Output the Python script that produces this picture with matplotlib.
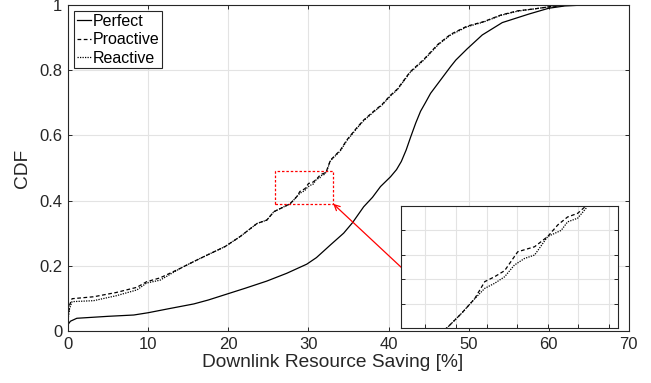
import matplotlib
matplotlib.use("Agg")
import matplotlib.pyplot as plt

plt.rcParams['font.family'] = ['Liberation Sans', 'DejaVu Sans']

perfect_x = [0, 0.3, 1.1, 5, 8.2, 10, 12.5, 15.7, 17.5, 19.8, 22.1, 24.8, 27.3,
             29.8, 31.0, 31.9, 32.75, 34.4, 35.5, 36.9, 38.0, 39.0, 40.25, 41.0,
             41.6, 42.2, 42.75, 43.4, 44.0, 44.6, 45.25, 46.5, 47.75, 48.4, 49.8,
             51.7, 54.2, 57.5, 60.0, 62.0, 64.5]
perfect_y = [0.02, 0.03, 0.039, 0.045, 0.049, 0.056, 0.068, 0.083, 0.095, 0.113,
             0.131, 0.153, 0.177, 0.205, 0.225, 0.245, 0.264, 0.30, 0.332, 0.381,
             0.41, 0.443, 0.473, 0.495, 0.52, 0.555, 0.594, 0.638, 0.674, 0.70,
             0.729, 0.77, 0.811, 0.831, 0.865, 0.908, 0.946, 0.972, 0.99, 0.997,
             1.0]

proactive_x = [0, 0.2, 0.5, 3.2, 6, 8.6, 9.8, 11.5, 14, 16.1, 19.6, 21.5, 23.6,
               24.8, 25.7, 27.7, 28.18, 28.61, 28.94, 29.26, 29.59, 30.02, 30.57,
               31.0, 31.33, 31.65, 31.98, 32.25, 32.75, 34, 34.8, 36.1, 36.9, 38.2,
               39.2, 40.2, 41.1, 42.7, 44.4, 45.7, 46.2, 47.75, 49.8, 51.9, 54,
               56.1, 58.2, 60.25, 62.5]
proactive_y = [0.04, 0.08, 0.099, 0.105, 0.118, 0.134, 0.151, 0.163, 0.192, 0.218,
               0.259, 0.29, 0.33, 0.34, 0.366, 0.39, 0.402, 0.414, 0.428, 0.432,
               0.437, 0.4525, 0.4566, 0.465, 0.4745, 0.481, 0.484, 0.49, 0.524,
               0.555, 0.586, 0.625, 0.647, 0.675, 0.695, 0.722, 0.742, 0.795,
               0.833, 0.867, 0.88, 0.91, 0.935, 0.949, 0.969, 0.982, 0.988, 0.995,
               1.0]

reactive_x = [0, 0.2, 0.5, 3.2, 6, 8.6, 9.8, 11.5, 14, 16.1, 19.6, 21.5, 23.6,
              24.8, 25.7, 27.7, 28.18, 28.61, 28.94, 29.26, 29.59, 29.91, 30.24,
              30.57, 31.0, 31.44, 31.65, 31.98, 32.25, 32.75, 34, 34.8, 36.1, 36.9,
              38.2, 39.2, 40.2, 41.1, 42.7, 44.4, 45.7, 46.2, 47.75, 49.8, 51.9,
              54, 56.1, 58.2, 60.25, 62.5]
reactive_y = [0.035, 0.07, 0.09, 0.093, 0.108, 0.126, 0.147, 0.156, 0.192, 0.218,
              0.259, 0.29, 0.33, 0.34, 0.366, 0.39, 0.402, 0.414, 0.4225, 0.4266,
              0.432, 0.4416, 0.447, 0.4498, 0.465, 0.470, 0.477, 0.48, 0.488,
              0.522, 0.553, 0.584, 0.623, 0.645, 0.673, 0.693, 0.72, 0.74, 0.793,
              0.831, 0.865, 0.878, 0.908, 0.933, 0.948, 0.968, 0.981, 0.988, 0.995,
              1.0]

x_ticks = [0, 10, 20, 30, 40, 50, 60, 70]
y_ticks = [0, 0.2, 0.4, 0.6, 0.8, 1]
y_ticklabels = ['0', '0.2', '0.4', '0.6', '0.8', '1']

zoom_box = (25.8, 33.1, 0.39, 0.49)      # red rectangle in main axes
inset_xlim = (26.2, 33.3)
inset_ylim = (0.39, 0.49)
inset_xticks = [27, 28, 29, 30, 31, 32, 33]
inset_yticks = [0.41, 0.43, 0.45, 0.47]
arrow_start = (41.6, 0.195)

text_col = '#262626'
grid_kw = dict(color='#e3e3e3', linewidth=0.8)


def draw_curves(ax):
    ax.plot(perfect_x, perfect_y, color='black', linewidth=0.9, linestyle='-', label='Perfect')
    ax.plot(proactive_x, proactive_y, color='black', linewidth=0.9, linestyle=(0, (3, 2)), label='Proactive')
    ax.plot(reactive_x, reactive_y, color='black', linewidth=0.9, linestyle=(0, (1, 1)), label='Reactive')


def style_axes(ax):
    for s in ax.spines.values():
        s.set_color(text_col)
        s.set_linewidth(0.8)
    ax.tick_params(direction='in', top=True, right=True, length=3, width=0.7,
                   color=text_col, labelcolor=text_col, labelsize=12, pad=4)
    ax.grid(True, **grid_kw)
    ax.set_axisbelow(True)


fig = plt.figure(figsize=(6.51, 3.83), dpi=100)
ax = fig.add_axes([0.1045, 0.1358, 0.8615, 0.8512])
draw_curves(ax)
ax.set_xlim(0, 70)
ax.set_ylim(0, 1)
ax.set_xticks(x_ticks)
ax.set_yticks(y_ticks)
ax.set_yticklabels(y_ticklabels)
style_axes(ax)
ax.set_xlabel('Downlink Resource Saving [%]', fontsize=13.8, color=text_col)
ax.xaxis.set_label_coords(0.472, -0.07, transform=ax.transAxes)
ax.set_ylabel('CDF', fontsize=13.8, color=text_col, labelpad=6)

leg = ax.legend(loc='upper left', fontsize=11.5, handlelength=0.9, handletextpad=0.1,
                borderpad=0.15, labelspacing=0.22, borderaxespad=0.4,
                fancybox=False, framealpha=1, edgecolor=text_col)
leg.get_frame().set_linewidth(0.8)

# red zoom rectangle
x0, x1, y0, y1 = zoom_box
ax.plot([x0, x1, x1, x0, x0], [y0, y0, y1, y1, y0], color='red',
        linestyle=(0, (2, 1.5)), linewidth=0.9)
ax.annotate('', xy=(x1, y0), xytext=arrow_start,
            arrowprops=dict(arrowstyle='->', color='red', lw=0.9, shrinkA=0, shrinkB=0))

# inset
axin = fig.add_axes([0.616, 0.1436, 0.3333, 0.3185])
draw_curves(axin)
axin.set_xlim(*inset_xlim)
axin.set_ylim(*inset_ylim)
axin.set_xticks(inset_xticks)
axin.set_yticks(inset_yticks)
axin.set_xticklabels([])
axin.set_yticklabels([])
style_axes(axin)
axin.tick_params(top=False)

fig.savefig('out.png', dpi=100)
